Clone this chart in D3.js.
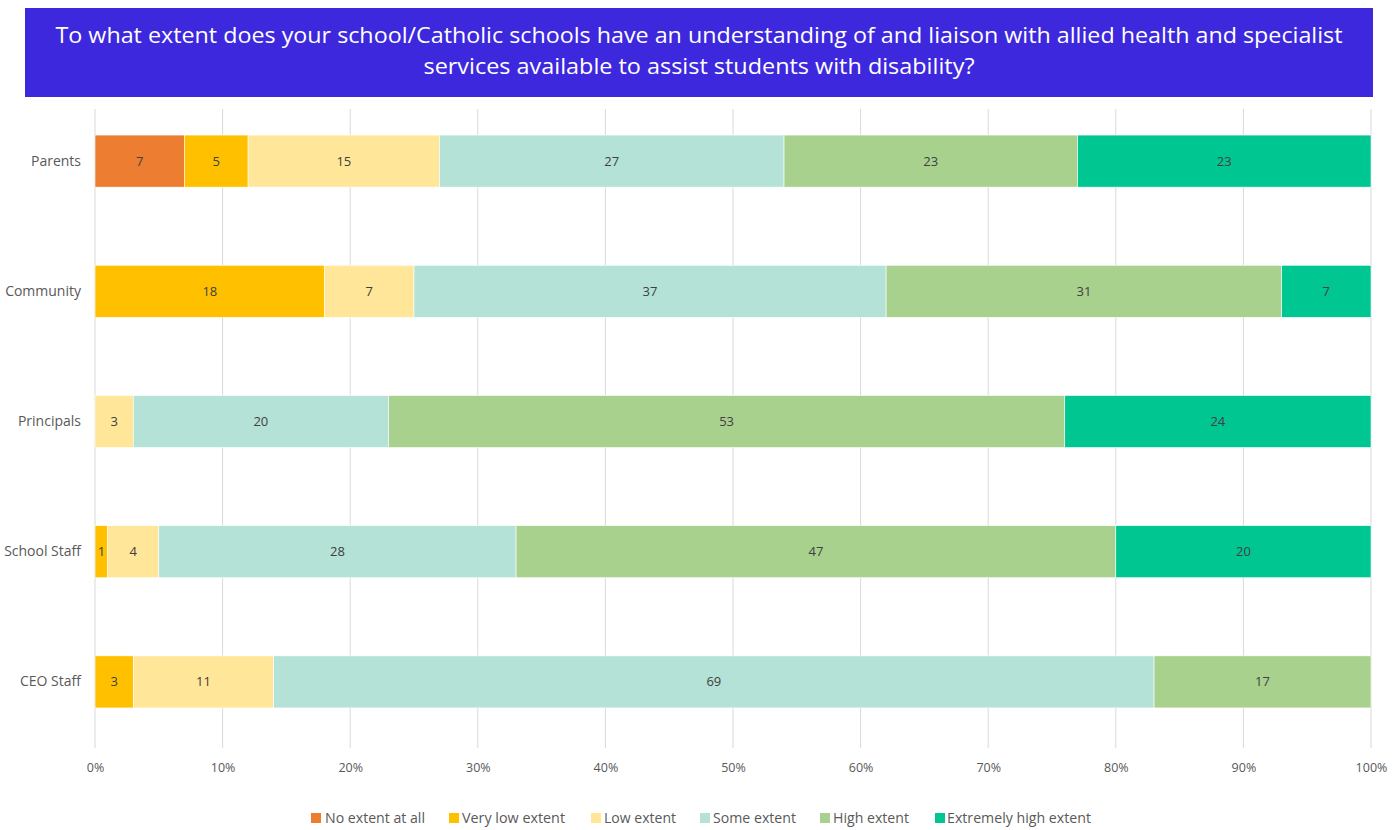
<!DOCTYPE html>
<html>
<head>
<meta charset="utf-8">
<script src="https://cdn.jsdelivr.net/npm/d3@7"></script>
<style>
  html, body { margin: 0; padding: 0; background: #ffffff; }
  svg { display: block; }
</style>
</head>
<body>
<svg id="chart" width="1394" height="830"></svg>
<script>
// Respondent groups (top to bottom)
const groups = ["Parents", "Community", "Principals", "School Staff", "CEO Staff"];

// Response levels (stack order, left to right)
const levels = ["No extent at all", "Very low extent", "Low extent", "Some extent", "High extent", "Extremely high extent"];

// Percentage of each group giving each response
const noExtent      = [7, 0, 0, 0, 0];
const veryLow       = [5, 18, 0, 1, 3];
const low           = [15, 7, 3, 4, 11];
const some          = [27, 37, 20, 28, 69];
const high          = [23, 31, 53, 47, 17];
const extremelyHigh = [23, 7, 24, 20, 0];

const tickValues = [0, 10, 20, 30, 40, 50, 60, 70, 80, 90, 100];

const levelColors = ["#ED7D31", "#FFC000", "#FFE699", "#B5E2D7", "#A9D18E", "#00C692"];

const titleLines = [
  "To what extent does your school/Catholic schools have an understanding of and liaison with allied health and specialist",
  "services available to assist students with disability?"
];

const seriesValues = [noExtent, veryLow, low, some, high, extremelyHigh];
const rows = groups.map((g, i) => {
  const r = { group: g };
  levels.forEach((l, j) => { r[l] = seriesValues[j][i]; });
  return r;
});

const svg = d3.select("#chart");
const fontMain = "'Open Sans', 'Noto Sans', sans-serif";

// Title banner
svg.append("rect")
  .attr("x", 25).attr("y", 8).attr("width", 1348).attr("height", 89)
  .attr("fill", "#3D28DE");
const titleWidths = [1287, 551];
titleLines.forEach((t, i) => {
  svg.append("text")
    .attr("x", 699).attr("y", 43 + i * 31)
    .attr("text-anchor", "middle")
    .attr("fill", "#ffffff")
    .attr("font-family", fontMain)
    .attr("font-size", 21)
    .attr("textLength", titleWidths[i])
    .attr("lengthAdjust", "spacingAndGlyphs")
    .text(t);
});

// Scales
const x = d3.scaleLinear().domain([0, 100]).range([95, 1371]);
const y = d3.scaleBand().domain(groups).range([96, 747]).paddingInner(0.6).paddingOuter(0.3);
const color = d3.scaleOrdinal().domain(levels).range(levelColors);

// Vertical gridlines
svg.append("g")
  .selectAll("line")
  .data(tickValues)
  .join("line")
  .attr("x1", d => x(d)).attr("x2", d => x(d))
  .attr("y1", 109).attr("y2", 748)
  .attr("stroke", "#D9D9D9")
  .attr("stroke-width", 1);

// X axis tick labels
const xAxis = d3.axisBottom(x).tickValues(tickValues).tickFormat(d => d + "%").tickSize(0);
const gx = svg.append("g").attr("transform", "translate(0,760)").call(xAxis);
gx.select(".domain").remove();
gx.selectAll("text")
  .attr("fill", "#595959")
  .attr("font-family", fontMain)
  .attr("font-size", 12.5);

// Y axis category labels
const yAxis = d3.axisLeft(y).tickSize(0).tickPadding(14);
const gy = svg.append("g").attr("transform", `translate(${x(0)},0)`).call(yAxis);
gy.select(".domain").remove();
gy.selectAll("text")
  .attr("fill", "#595959")
  .attr("font-family", fontMain)
  .attr("font-size", 14);

// Stacked bars
const stacked = d3.stack().keys(levels)(rows);
const layers = svg.append("g")
  .selectAll("g")
  .data(stacked)
  .join("g")
  .attr("fill", d => color(d.key));

layers.selectAll("rect")
  .data(d => d.filter(s => s[1] - s[0] > 0))
  .join("rect")
  .attr("x", d => x(d[0]))
  .attr("y", d => y(d.data.group))
  .attr("width", d => x(d[1]) - x(d[0]))
  .attr("height", y.bandwidth())
  .attr("stroke", "#ffffff")
  .attr("stroke-width", 0.6);

// Value labels
layers.selectAll("text")
  .data(d => d.filter(s => s[1] - s[0] > 0))
  .join("text")
  .attr("x", d => (x(d[0]) + x(d[1])) / 2)
  .attr("y", d => y(d.data.group) + y.bandwidth() / 2)
  .attr("dy", "0.35em")
  .attr("text-anchor", "middle")
  .attr("fill", "#404040")
  .attr("font-family", fontMain)
  .attr("font-size", 13)
  .text(d => d[1] - d[0]);

// Legend
const legendItems = [
  { key: levels[0], sx: 311, tx: 325, tw: 100 },
  { key: levels[1], sx: 449, tx: 462, tw: 103 },
  { key: levels[2], sx: 591, tx: 604, tw: 72 },
  { key: levels[3], sx: 700, tx: 713, tw: 83 },
  { key: levels[4], sx: 820, tx: 833, tw: 76 },
  { key: levels[5], sx: 935, tx: 947, tw: 144 }
];
const legend = svg.append("g");
legendItems.forEach(it => {
  legend.append("rect")
    .attr("x", it.sx).attr("y", 813).attr("width", 10).attr("height", 10)
    .attr("fill", color(it.key));
  legend.append("text")
    .attr("x", it.tx).attr("y", 818).attr("dy", "0.35em")
    .attr("fill", "#595959")
    .attr("font-family", fontMain)
    .attr("font-size", 14)
    .attr("textLength", it.tw)
    .attr("lengthAdjust", "spacingAndGlyphs")
    .text(it.key);
});
</script>
</body>
</html>
